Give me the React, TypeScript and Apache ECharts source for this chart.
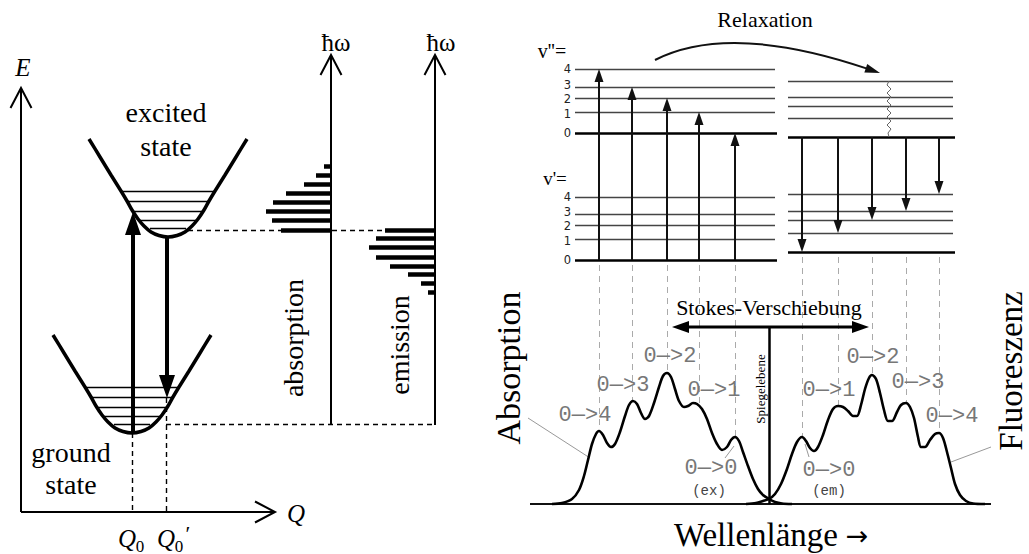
import React, { useEffect, useRef } from "react";
import * as echarts from "echarts";

const W = 1029;
const H = 554;

// ================= LEFT PANEL: Franck–Condon picture (hidden plane coordinates) =================
// potential well shape, relative to its minimum
const potentialShape: number[][] = [
  [-79, -98], [-68, -80], [-57, -62], [-47, -46], [-41, -36], [-36, -27], [-30, -18],
  [-24, -11], [-17, -5], [-9, -1.5], [0, 0], [9, -1.5], [17, -5], [24, -11], [30, -18],
  [36, -27], [41, -36], [47, -46], [57, -62], [68, -80], [79, -98],
];
const groundMinimum = [132, 433];
const excitedMinimum = [168, 237];
const vibLevelDepth = [-46, -36, -26, -17, -9];
const vibLevelHalfWidth = [46, 40, 35, 28, 18];

// transitions (vertical arrows) [x, yFrom, yTo]
const absorptionArrow = [133, 433, 212];
const emissionArrow = [167, 237, 398];

// spectra as horizontal bars: energy (y) and intensity (length)
const absorptionAxisX = 331;
const emissionAxisX = 435;
const absBarEnergy = [166, 175, 184, 193, 202, 211, 220, 230];
const absBarIntensity = [7, 15, 27, 45, 58, 65, 59, 50];
const emiBarEnergy = [230, 238, 247, 257, 266, 274, 283, 292];
const emiBarIntensity = [50, 59, 66, 59, 45, 27, 14, 7];

// ================= RIGHT PANEL: Jablonski levels + spectra =================
const vUpperLeft = [133, 112, 98, 87, 69]; // v'' = 0..4
const vLowerLeft = [260, 239, 225, 214, 197]; // v' = 0..4
const vUpperRight = [137, 118, 106, 97, 81];
const vLowerRight = [252, 233, 220, 211, 194];
const levelLabels = ["0", "1", "2", "3", "4"];
const levelLabelNudge = [0, 1.5, 0.5, -2, 0];
const absTransitionX = [735, 699, 667, 632, 599]; // 0->0 .. 0->4
const emiTransitionX = [802, 838, 872, 906, 939];
const absPeakY = [437, 404, 373, 401, 431];
const emiPeakY = [437, 406, 375, 403, 433];
const transitionLabels = ["0\u2014>0", "0\u2014>1", "0\u2014>2", "0\u2014>3", "0\u2014>4"];

const absorptionSpectrum: number[][] = [
  [552, 504], [562, 503], [572, 499], [579, 490], [584, 476], [588, 460], [592, 444],
  [596, 434], [599, 431], [603, 435], [607, 443], [611, 447], [615, 444], [620, 432],
  [625, 416], [629, 405], [633, 401], [637, 404], [641, 413], [645, 419], [649, 416],
  [654, 403], [659, 387], [663, 376], [667, 373], [671, 377], [675, 389], [679, 401],
  [684, 407], [688, 406], [693, 403], [697, 404], [702, 409], [707, 419], [712, 433],
  [717, 444], [722, 450], [727, 447], [731, 440], [735, 437], [739, 441], [743, 452],
  [748, 466], [753, 479], [758, 489], [763, 495], [769, 499], [775, 502], [782, 503.5],
  [792, 504],
];
const emissionSpectrum: number[][] = [
  [746, 504], [756, 503], [763, 501], [769, 499], [775, 494], [781, 484], [787, 469],
  [792, 454], [797, 442], [802, 437], [806, 441], [810, 448], [814, 451], [818, 447],
  [823, 435], [828, 420], [833, 409], [838, 406], [843, 407], [848, 411], [853, 416],
  [857, 416], [861, 405], [865, 389], [869, 378], [872, 375], [876, 379], [880, 393],
  [884, 410], [888, 421], [892, 421], [897, 412], [901, 405], [906, 403], [910, 407],
  [914, 418], [918, 437], [921, 447], [925, 447], [930, 440], [935, 434], [939, 433],
  [943, 438], [947, 452], [951, 468], [955, 484], [960, 495], [966, 501], [973, 503.5],
  [985, 504],
];
const relaxationSquiggle: number[][] = [
  [889, 81], [887, 85], [891, 89], [887, 93], [891, 97], [887, 101], [891, 105], [887, 109],
  [891, 113], [887, 117], [891, 121], [887, 125], [891, 129], [888, 133], [889, 137],
];

const serif = '"Liberation Serif", "Times New Roman", serif';
const mono = '"Liberation Mono", "Courier New", monospace';
const sans = '"DejaVu Sans", sans-serif';

const seg = (x1: number, y1: number, x2: number, y2: number) => ({ coords: [[x1, y1], [x2, y2]] });

function linesSeries(name: string, data: any[], lineStyle: any, z = 3) {
  return {
    type: "lines",
    name,
    coordinateSystem: "cartesian2d",
    silent: true,
    symbol: "none",
    z,
    lineStyle: { opacity: 1, ...lineStyle },
    data,
  };
}

function curveSeries(name: string, data: number[][], color: string, width: number, smooth: number | boolean, z = 4) {
  return {
    type: "line",
    name,
    data,
    showSymbol: false,
    symbol: "none",
    smooth,
    silent: true,
    z,
    lineStyle: { color, width },
  };
}

type ArrowOpts = { width: number; headLen: number; headW: number; color: string; kind: "filled" | "open"; both?: boolean; z?: number };

function arrowSeries(name: string, data: number[][], o: ArrowOpts) {
  return {
    type: "custom",
    name,
    coordinateSystem: "cartesian2d",
    silent: true,
    z: o.z ?? 5,
    dimensions: ["x1", "y1", "x2", "y2"],
    encode: { x: [0, 2], y: [1, 3] },
    data,
    renderItem: (_p: any, api: any) => {
      const a = api.coord([api.value(0), api.value(1)]);
      const b = api.coord([api.value(2), api.value(3)]);
      const dx = b[0] - a[0];
      const dy = b[1] - a[1];
      const L = Math.hypot(dx, dy) || 1;
      const ux = dx / L, uy = dy / L;
      const nx = -uy, ny = ux;
      const head = (tip: number[], sx: number, sy: number) => {
        const bx = tip[0] - sx * o.headLen, by = tip[1] - sy * o.headLen;
        const p1 = [bx + nx * o.headW / 2, by + ny * o.headW / 2];
        const p2 = [bx - nx * o.headW / 2, by - ny * o.headW / 2];
        if (o.kind === "filled") {
          return { type: "polygon", shape: { points: [tip, p1, p2] }, style: { fill: o.color } };
        }
        return { type: "polyline", shape: { points: [p1, tip, p2] }, style: { stroke: o.color, lineWidth: o.width, fill: "none" } };
      };
      const trim = o.kind === "filled" ? o.headLen * 0.7 : 0;
      const s = o.both ? [a[0] + ux * trim, a[1] + uy * trim] : a;
      const e = [b[0] - ux * trim, b[1] - uy * trim];
      const children: any[] = [
        { type: "line", shape: { x1: s[0], y1: s[1], x2: e[0], y2: e[1] }, style: { stroke: o.color, lineWidth: o.width } },
        head(b, ux, uy),
      ];
      if (o.both) children.push(head(a, -ux, -uy));
      return { type: "group", children };
    },
  };
}

function txt(text: string, x: number, y: number, size: number, o: any = {}) {
  const align = o.align || "center";
  return {
    type: "text",
    x,
    y,
    rotation: o.rot || 0,
    silent: true,
    z: 20,
    style: {
      text,
      fontSize: size,
      fontFamily: o.font || serif,
      fontStyle: o.italic ? "italic" : "normal",
      fontWeight: o.bold ? "bold" : "normal",
      fill: o.color || "#000",
      textAlign: align,
      align,
      textVerticalAlign: "middle",
      verticalAlign: "middle",
    },
  };
}

function buildOption() {
  const well = (m: number[]) => potentialShape.map(([dx, dy]) => [m[0] + dx, m[1] + dy]);
  const vibLines = (m: number[]) =>
    vibLevelDepth.map((d, i) => seg(m[0] - vibLevelHalfWidth[i], m[1] + d, m[0] + vibLevelHalfWidth[i], m[1] + d));

  const absBars = absBarEnergy.map((y, i) => seg(absorptionAxisX - absBarIntensity[i], y, absorptionAxisX, y));
  const emiBars = emiBarEnergy.map((y, i) => seg(emissionAxisX - emiBarIntensity[i], y, emissionAxisX, y));

  const leftDashed = [
    seg(188, absBarEnergy[absBarEnergy.length - 1], emissionAxisX - emiBarIntensity[0], emiBarEnergy[0]),
    seg(emissionArrow[0] - 1, groundMinimum[1] - 9, emissionAxisX, groundMinimum[1] - 9),
    seg(groundMinimum[0], groundMinimum[1], groundMinimum[0], 512),
    seg(emissionArrow[0] - 1, emissionArrow[2], emissionArrow[0] - 1, 512),
  ];

  const thinLevels = [
    ...vUpperLeft.slice(1).map((y) => seg(575, y, 775, y)),
    ...vLowerLeft.slice(1).map((y) => seg(575, y, 775, y)),
    ...vUpperRight.slice(1).map((y) => seg(788, y, 953, y)),
    ...vLowerRight.slice(1).map((y) => seg(788, y, 953, y)),
  ];
  const thickLevels = [
    seg(575, vUpperLeft[0], 777, vUpperLeft[0]),
    seg(575, vLowerLeft[0], 777, vLowerLeft[0]),
    seg(788, vUpperRight[0], 955, vUpperRight[0]),
    seg(788, vLowerRight[0], 955, vLowerRight[0]),
  ];
  const greyDashed = [
    ...absTransitionX.map((x, i) => seg(x, 265, x, absPeakY[i])),
    ...emiTransitionX.map((x, i) => seg(x, 257, x, emiPeakY[i])),
  ];
  const leaders = [seg(528, 418, 590, 458), seg(951, 462, 991, 447), seg(725, 458, 734, 446), seg(805, 444, 809, 457)];

  const upArrows = absTransitionX.map((x, i) => [x, vLowerLeft[0], x, vUpperLeft[i]]);
  const downArrows = emiTransitionX.map((x, i) => [x, vUpperRight[0], x, vLowerRight[i]]);

  const graphic: any[] = [
    // left panel
    txt("E", 23, 67, 25, { italic: true }),
    txt("excited", 166, 112, 28),
    txt("state", 166, 146, 28),
    txt("ground", 71, 452, 28),
    txt("state", 71, 484, 28),
    txt("\u0127\u03c9", 336, 42, 25),
    txt("\u0127\u03c9", 441, 42, 25),
    txt("absorption", 293, 338, 28, { rot: Math.PI / 2 }),
    txt("emission", 399, 345, 28, { rot: Math.PI / 2 }),
    txt("Q", 296, 513, 25, { italic: true }),
    txt("Q", 127, 538, 25, { italic: true }),
    txt("0", 140, 546, 17),
    txt("Q", 166, 538, 25, { italic: true }),
    txt("0", 179, 546, 17),
    txt("\u2032", 188, 533, 22),
    // right panel
    txt("Relaxation", 765, 19, 22),
    txt("v''=", 552, 51, 20, { font: serif }),
    txt("v'=", 555, 178, 19, { font: serif }),
    ...vUpperLeft.map((y, i) => txt(levelLabels[i], 571, y + levelLabelNudge[i], 11.5, { font: sans, align: "right", color: "#222" })),
    ...vLowerLeft.map((y, i) => txt(levelLabels[i], 571, y + levelLabelNudge[i], 11.5, { font: sans, align: "right", color: "#222" })),
    txt("Stokes-Verschiebung", 769, 307, 22),
    txt("Spiegelebene", 760, 389, 13, { rot: Math.PI / 2 }),
    txt(transitionLabels[4], 585, 415, 22, { font: mono, color: "#777" }),
    txt(transitionLabels[3], 623, 385, 22, { font: mono, color: "#777" }),
    txt(transitionLabels[2], 670, 356, 22, { font: mono, color: "#777" }),
    txt(transitionLabels[1], 714, 390, 22, { font: mono, color: "#777" }),
    txt(transitionLabels[0], 711, 468, 22, { font: mono, color: "#777" }),
    txt("(ex)", 709, 491, 14, { font: mono, color: "#444" }),
    txt(transitionLabels[0], 829, 470, 22, { font: mono, color: "#777" }),
    txt(transitionLabels[1], 829, 390, 22, { font: mono, color: "#777" }),
    txt(transitionLabels[2], 873, 357, 22, { font: mono, color: "#777" }),
    txt(transitionLabels[3], 918, 382, 22, { font: mono, color: "#777" }),
    txt(transitionLabels[4], 952, 416, 22, { font: mono, color: "#777" }),
    txt("(em)", 829, 491, 14, { font: mono, color: "#444" }),
    txt("Absorption", 508, 368, 34, { rot: Math.PI / 2 }),
    txt("Fluoreszenz", 1011, 371, 33, { rot: Math.PI / 2 }),
    txt("Wellenl\u00e4nge", 838, 535, 33, { align: "right" }),
    txt("\u2192", 857, 535, 27, { font: sans }),
  ];

  const series: any[] = [
    // left panel
    curveSeries("ground state", well(groundMinimum), "#000", 3.5, 0.3),
    curveSeries("excited state", well(excitedMinimum), "#000", 3.5, 0.3),
    linesSeries("vibrational levels", [...vibLines(groundMinimum), ...vibLines(excitedMinimum)], { color: "#000", width: 1.4 }),
    linesSeries("absorption bars", absBars, { color: "#000", width: 4.5 }),
    linesSeries("emission bars", emiBars, { color: "#000", width: 4.5 }),
    linesSeries("guides", leftDashed, { color: "#000", width: 1.4, type: [5, 4] }),
    arrowSeries("axes", [[21, 512, 21, 88], [21, 512, 275, 512], [absorptionAxisX, 425, absorptionAxisX, 55], [emissionAxisX, 425, emissionAxisX, 55]],
      { width: 2, headLen: 20, headW: 21, color: "#000", kind: "open" }),
    arrowSeries("FC transitions", [
      [absorptionArrow[0], absorptionArrow[1], absorptionArrow[0], absorptionArrow[2]],
      [emissionArrow[0], emissionArrow[1], emissionArrow[0], emissionArrow[2]],
    ], { width: 4, headLen: 23, headW: 16, color: "#000", kind: "filled" }),
    // right panel
    linesSeries("grey dashed", greyDashed, { color: "#aaa", width: 1, type: [6, 5] }, 2),
    linesSeries("levels", thinLevels, { color: "#444", width: 1.4 }),
    linesSeries("zero levels", thickLevels, { color: "#000", width: 2.6 }),
    linesSeries("leaders", leaders, { color: "#999", width: 1 }),
    linesSeries("baseline", [seg(530, 504, 991, 504)], { color: "#111", width: 2 }),
    linesSeries("mirror plane", [seg(769, 327, 769, 504)], { color: "#000", width: 2.5 }),
    curveSeries("relaxation", relaxationSquiggle, "#666", 1, false),
    curveSeries("absorption spectrum", absorptionSpectrum, "#000", 2.6, 0.3, 6),
    curveSeries("fluorescence spectrum", emissionSpectrum, "#000", 2.6, 0.3, 6),
    arrowSeries("excitation", upArrows, { width: 2, headLen: 13, headW: 9, color: "#111", kind: "filled" }),
    arrowSeries("emission", downArrows, { width: 2, headLen: 13, headW: 9, color: "#111", kind: "filled" }),
    arrowSeries("stokes", [[672, 327, 869, 327]], { width: 3, headLen: 17, headW: 12, color: "#000", kind: "filled", both: true }),
    {
      type: "custom",
      name: "relaxation arc",
      coordinateSystem: "cartesian2d",
      silent: true,
      z: 5,
      dimensions: ["x1", "y1", "cx", "cy", "x2", "y2"],
      encode: { x: [0, 4], y: [1, 5] },
      data: [[655, 60, 730, 22, 880, 73]],
      renderItem: (_p: any, api: any) => {
        const a = api.coord([api.value(0), api.value(1)]);
        const c = api.coord([api.value(2), api.value(3)]);
        const b = api.coord([api.value(4), api.value(5)]);
        const dx = b[0] - c[0], dy = b[1] - c[1];
        const L = Math.hypot(dx, dy);
        const ux = dx / L, uy = dy / L, nx = -uy, ny = ux;
        const hl = 15, hw = 9;
        const bx = b[0] - ux * hl, by = b[1] - uy * hl;
        return {
          type: "group",
          children: [
            { type: "bezierCurve", shape: { x1: a[0], y1: a[1], cpx1: c[0], cpy1: c[1], x2: bx + ux * 3, y2: by + uy * 3 }, style: { stroke: "#111", lineWidth: 2, fill: "none" } },
            { type: "polygon", shape: { points: [b, [bx + nx * hw / 2, by + ny * hw / 2], [bx - nx * hw / 2, by - ny * hw / 2]] }, style: { fill: "#111" } },
          ],
        };
      },
    },
  ];

  return {
    animation: false,
    backgroundColor: "#fff",
    grid: { left: 0, right: 0, top: 0, bottom: 0, containLabel: false },
    xAxis: { type: "value", min: 0, max: W, show: false },
    yAxis: { type: "value", min: 0, max: H, inverse: true, show: false },
    series,
    graphic,
  };
}

export default function App() {
  const ref = useRef<HTMLDivElement>(null);
  useEffect(() => {
    document.body.style.margin = "0";
    if (!ref.current) return;
    const chart = echarts.init(ref.current, undefined, { renderer: "svg" });
    chart.setOption(buildOption() as any);
    return () => chart.dispose();
  }, []);
  return <div ref={ref} style={{ width: W, height: H, background: "#fff" }} />;
}
